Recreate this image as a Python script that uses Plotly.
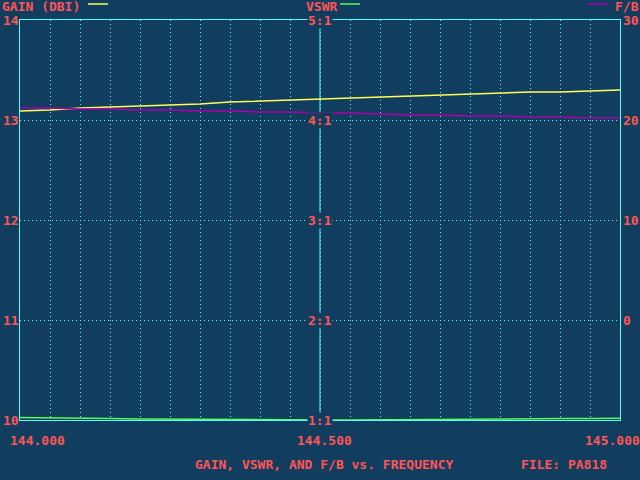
import plotly.graph_objects as go

# frequency points (MHz)
freq = [144.00, 144.05, 144.10, 144.15, 144.20, 144.25, 144.30, 144.35, 144.40, 144.45, 144.50,
        144.55, 144.60, 144.65, 144.70, 144.75, 144.80, 144.85, 144.90, 144.95, 145.00]

# gain in dBi
gain = [13.09, 13.10, 13.12, 13.13, 13.14, 13.15, 13.16, 13.18, 13.19, 13.20, 13.21,
        13.22, 13.23, 13.24, 13.25, 13.26, 13.27, 13.28, 13.28, 13.29, 13.30]

# vswr (x:1)
vswr = [1.026, 1.020, 1.017, 1.015, 1.011, 1.008, 1.006, 1.004, 1.002, 1.001, 1.000,
        1.000, 1.001, 1.003, 1.005, 1.007, 1.009, 1.011, 1.014, 1.016, 1.018]

# front to back in dB
fb = [21.2, 21.2, 21.1, 21.1, 21.0, 21.0, 20.9, 20.9, 20.8, 20.8, 20.7,
      20.7, 20.6, 20.5, 20.5, 20.4, 20.4, 20.3, 20.3, 20.2, 20.2]

gain_ticks = [10, 11, 12, 13, 14]
vswr_ticks = [1, 2, 3, 4, 5]
vswr_labels = ['1:1', '2:1', '3:1', '4:1', '5:1']
fb_ticks = [0, 10, 20, 30]
freq_labels = ['144.000', '144.500', '145.000']

BG = '#113d5f'
CYAN = '#55ffff'
RED = '#ff5555'
YEL = '#ffff55'
GRN = '#55ff55'
MAG = '#aa00aa'
FONT = dict(family='DejaVu Sans Mono', size=13, color=RED, weight='bold')

fig = go.Figure()
fig.add_trace(go.Scatter(x=freq, y=gain, mode='lines', line=dict(color=YEL, width=1.5), yaxis='y'))
fig.add_trace(go.Scatter(x=freq, y=vswr, mode='lines', line=dict(color=GRN, width=1.5), yaxis='y2'))
fig.add_trace(go.Scatter(x=freq, y=fb, mode='lines', line=dict(color=MAG, width=1.5), yaxis='y3'))

# solid divider at mid band
fig.add_shape(type='line', xref='x', yref='paper', x0=144.5, x1=144.5, y0=0, y1=1,
              line=dict(color=CYAN, width=1), layer='below')

# legend header lines
for x0, col in [(0.1133, YEL), (0.5333, GRN), (0.9467, MAG)]:
    fig.add_shape(type='line', xref='paper', yref='paper', x0=x0, x1=x0 + 0.0333, y0=1.04, y1=1.04,
                  line=dict(color=col, width=1.5))

ann = []
# gain labels on the left edge
for g in gain_ticks:
    ann.append(dict(x=144.0, y=g, xref='x', yref='y', text=str(g), showarrow=False, font=FONT,
                    xanchor='right', yanchor='middle', xshift=1))
# vswr labels on the centre line
for v, t in zip(vswr_ticks, vswr_labels):
    ann.append(dict(x=144.5, y=v, xref='x', yref='y2', text=t, showarrow=False, font=FONT,
                    bgcolor=BG, borderpad=0))
# frequency labels
for f, t, xs, xa in [(144.0, freq_labels[0], -12, 'left'), (144.5, freq_labels[1], 4, 'center'),
                     (145.0, freq_labels[2], -8, 'center')]:
    ann.append(dict(x=f, y=-0.052, xref='x', yref='paper', text=t, showarrow=False, font=FONT,
                    xanchor=xa, yanchor='middle', xshift=xs))
# header
for x, t in [(-0.033, 'GAIN (DBI)'), (0.473, 'VSWR'), (0.988, 'F/B')]:
    ann.append(dict(x=x, y=1.033, xref='paper', yref='paper', text=t, showarrow=False,
                    font=FONT, xanchor='left', yanchor='middle'))
ann.append(dict(x=0.5075, y=-0.11, xref='paper', yref='paper', text='GAIN, VSWR, AND F/B vs. FREQUENCY',
                showarrow=False, font=FONT, xanchor='center', yanchor='middle'))
ann.append(dict(x=0.906, y=-0.11, xref='paper', yref='paper', text='FILE: PA818',
                showarrow=False, font=FONT, xanchor='center', yanchor='middle'))

fig.update_layout(
    template='none',
    width=640, height=480,
    margin=dict(l=20, r=20, t=20, b=60, autoexpand=False),
    paper_bgcolor=BG, plot_bgcolor=BG,
    showlegend=False,
    font=FONT,
    annotations=ann,
    xaxis=dict(range=[144, 145], tickvals=freq, showticklabels=False, ticks='',
               showgrid=True, gridcolor=CYAN, gridwidth=1, griddash='1px,3px',
               showline=True, mirror=True, linecolor=CYAN, linewidth=1,
               zeroline=False, layer='below traces', automargin=False),
    yaxis=dict(range=[10, 14], tickvals=gain_ticks, ticks='', showticklabels=False,
               showgrid=True, gridcolor=CYAN, gridwidth=1, griddash='1px,3px',
               showline=True, mirror=True, linecolor=CYAN, linewidth=1,
               zeroline=False, layer='below traces', automargin=False),
    yaxis2=dict(range=[1, 5], overlaying='y', visible=False),
    yaxis3=dict(range=[-10, 30], overlaying='y', side='right', tickvals=fb_ticks, ticks='',
                tickfont=FONT, showgrid=False, showline=False, zeroline=False,
                ticklabelstandoff=2, automargin=False),
)

fig.write_html('out.html', config={'displayModeBar': False},
               post_script="document.body.style.margin='0';")
